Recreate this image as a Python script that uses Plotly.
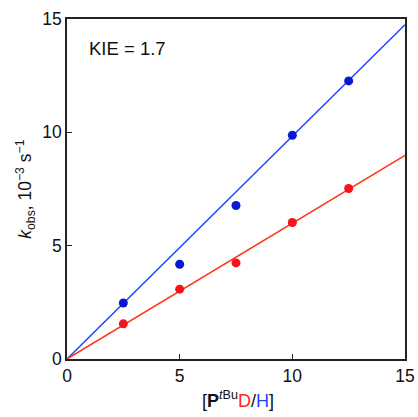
import plotly.graph_objects as go

# [PtBu] concentrations and observed rate constants (10^-3 s^-1)
conc = [2.5, 5.0, 7.5, 10.0, 12.5]
kobs_H = [2.47, 4.18, 6.77, 9.87, 12.27]
kobs_D = [1.55, 3.08, 4.24, 6.02, 7.52]

# slopes of the linear fits through the origin
slope_H = 0.983
slope_D = 0.599
fit_x = [0, 15]

x_ticks = [0, 5, 10, 15]
y_ticks = [0, 5, 10, 15]

BLUE_PT, BLUE_LN = "#0a18d2", "#1f45ff"
RED_PT, RED_LN = "#f5141a", "#ff3516"
FONT = "Liberation Sans, Arial, sans-serif"

fig = go.Figure()
fig.add_trace(go.Scatter(x=fit_x, y=[slope_H * v for v in fit_x], mode="lines",
                         line=dict(color=BLUE_LN, width=1.5), hoverinfo="skip"))
fig.add_trace(go.Scatter(x=fit_x, y=[slope_D * v for v in fit_x], mode="lines",
                         line=dict(color=RED_LN, width=1.5), hoverinfo="skip"))
fig.add_trace(go.Scatter(x=conc, y=kobs_H, mode="markers",
                         marker=dict(color=BLUE_PT, size=9, line=dict(width=0))))
fig.add_trace(go.Scatter(x=conc, y=kobs_D, mode="markers",
                         marker=dict(color=RED_PT, size=9, line=dict(width=0))))

axis_common = dict(
    showgrid=False, zeroline=False, showline=True, linecolor="#222222",
    linewidth=1.5, mirror=True, ticks="inside", ticklen=5, tickwidth=1.2,
    tickcolor="#222222", tickfont=dict(family=FONT, size=17.5, color="#111111"),
    automargin=False,
)

fig.update_layout(
    autosize=False,
    width=418, height=417,
    margin=dict(l=67, r=13, t=19, b=58),
    paper_bgcolor="white", plot_bgcolor="white",
    showlegend=False,
    font=dict(family=FONT, color="#111111"),
    xaxis=dict(range=[0, 15], tickvals=x_ticks, ticktext=[str(v) for v in x_ticks],
               **axis_common),
    yaxis=dict(range=[0, 15], tickvals=y_ticks, ticktext=[str(v) for v in y_ticks],
               **axis_common),
    annotations=[
        dict(text="KIE = 1.7", x=0.058, y=0.95, xref="paper", yref="paper",
             xanchor="left", yanchor="top", showarrow=False,
             font=dict(family=FONT, size=18.5, color="#111111")),
        dict(text="[<b>P</b><sup><i>t</i>Bu</sup><span style='color:#ff2a10'>D</span>/"
                  "<span style='color:#1f45ff'>H</span>]",
             x=0.505, y=-0.12, xref="paper", yref="paper",
             xanchor="center", yanchor="middle", showarrow=False,
             font=dict(family=FONT, size=18, color="#111111")),
        dict(text="<i>k</i><sub>obs</sub>, 10<sup>−3</sup> s<sup>−1</sup>",
             x=-0.125, y=0.5, xref="paper", yref="paper", textangle=-90,
             xanchor="center", yanchor="middle", showarrow=False,
             font=dict(family=FONT, size=17.5, color="#111111")),
    ],
)

fig.write_html("out.html", config={"responsive": False})
